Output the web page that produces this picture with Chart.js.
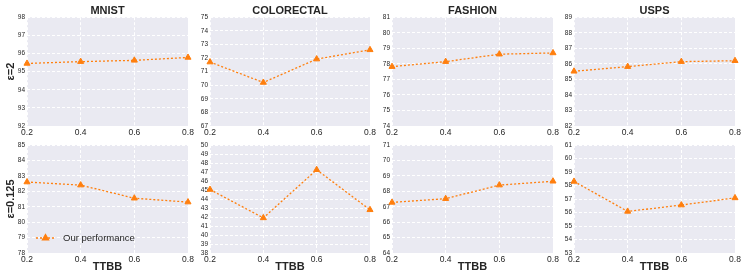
<!DOCTYPE html>
<html>
<head>
<meta charset="utf-8">
<script src="https://cdn.jsdelivr.net/npm/chart.js@4.4.1/dist/chart.umd.min.js"></script>
<style>
  html, body { margin: 0; padding: 0; background: #fff; }
  #wrap { position: relative; width: 747px; height: 280px; }
  #wrap canvas { position: absolute; left: 0; top: 0; }
</style>
</head>
<body>
<div id="wrap"></div>
<script>
// data
const ttbb = [0.2, 0.4, 0.6, 0.8];
const datasetNames = ['MNIST', 'COLORECTAL', 'FASHION', 'USPS'];
const rowLabels = ['ε=2', 'ε=0.125'];

const mnistEps2 = [95.45, 95.55, 95.62, 95.78];
const colorectalEps2 = [71.7, 70.2, 71.92, 72.6];
const fashionEps2 = [77.82, 78.14, 78.62, 78.7];
const uspsEps2 = [85.52, 85.82, 86.14, 86.2];

const mnistEps0125 = [82.6, 82.4, 81.55, 81.3];
const colorectalEps0125 = [45.05, 41.9, 47.25, 42.8];
const fashionEps0125 = [67.28, 67.52, 68.4, 68.65];
const uspsEps0125 = [58.3, 56.08, 56.55, 57.08];

const yRangeEps2 = [[92, 98], [67, 75], [74, 81], [82, 89]];
const yRangeEps0125 = [[78, 85], [38, 50], [64, 71], [53, 61]];

const seriesLabel = 'Our performance';
const orange = '#ff7f0e';
const textColor = '#262626';
const fontFamily = '"Liberation Sans", Arial, sans-serif';

// panel geometry (page pixels)
const W = 747, H = 280;
const plotLeft = [27, 210, 392, 574];
const plotRight = [188, 370, 553, 735];
const plotTop = [17, 145];
const plotBottom = [126, 253];

const plotBg = {
    id: 'plotBg',
    beforeDraw(chart) {
        const a = chart.chartArea;
        const ctx = chart.ctx;
        ctx.save();
        ctx.fillStyle = '#eaeaf2';
        ctx.fillRect(a.left, a.top, a.right - a.left, a.bottom - a.top);
        ctx.restore();
    }
};

// legend drawn inside the bottom-left panel
const innerLegend = {
    id: 'innerLegend',
    afterDraw(chart) {
        const a = chart.chartArea;
        const ctx = chart.ctx;
        const y = a.bottom - 15;
        const x0 = a.left + 9;
        ctx.save();
        ctx.strokeStyle = orange;
        ctx.lineWidth = 1.3;
        ctx.setLineDash([2, 2]);
        ctx.beginPath();
        ctx.moveTo(x0, y);
        ctx.lineTo(x0 + 19, y);
        ctx.stroke();
        ctx.setLineDash([]);
        ctx.fillStyle = orange;
        Chart.helpers.drawPoint(ctx, {pointStyle: 'triangle', radius: 3.5, borderWidth: 1}, x0 + 9.5, y);
        ctx.fillStyle = textColor;
        ctx.font = '9.5px ' + fontFamily;
        ctx.textBaseline = 'middle';
        ctx.fillText(seriesLabel, x0 + 27, y + 0.5);
        ctx.restore();
    }
};

const rows = [
    [mnistEps2, colorectalEps2, fashionEps2, uspsEps2],
    [mnistEps0125, colorectalEps0125, fashionEps0125, uspsEps0125]
];
const ranges = [yRangeEps2, yRangeEps0125];

const wrap = document.getElementById('wrap');

rows.forEach((row, r) => {
    row.forEach((values, c) => {
        const canvas = document.createElement('canvas');
        canvas.width = W;
        canvas.height = H;
        wrap.appendChild(canvas);

        const yW = c === 0 ? 27 : 20;
        const xH = r === 0 ? 14 : 27;
        const plugins = [plotBg];
        if (r === 1 && c === 0) plugins.push(innerLegend);

        new Chart(canvas.getContext('2d'), {
            type: 'line',
            data: {
                datasets: [{
                    label: seriesLabel,
                    data: ttbb.map((x, i) => ({x: x, y: values[i]})),
                    borderColor: orange,
                    backgroundColor: orange,
                    borderWidth: 1.3,
                    borderDash: [2, 2],
                    pointStyle: 'triangle',
                    pointRadius: 3.5,
                    pointBackgroundColor: orange,
                    pointBorderColor: orange,
                    pointBorderWidth: 1,
                    tension: 0,
                    clip: false
                }]
            },
            options: {
                responsive: false,
                animation: false,
                devicePixelRatio: 1,
                events: [],
                layout: {
                    padding: {
                        left: plotLeft[c] - yW,
                        right: W - plotRight[c],
                        top: r === 0 ? 0 : plotTop[1],
                        bottom: H - plotBottom[r] - xH
                    }
                },
                plugins: {
                    legend: {display: false},
                    tooltip: {enabled: false},
                    title: {
                        display: r === 0,
                        text: datasetNames[c],
                        fullSize: false,
                        color: textColor,
                        font: {family: fontFamily, size: 11, weight: 'bold'},
                        padding: {top: 4, bottom: 0}
                    }
                },
                scales: {
                    x: {
                        type: 'linear',
                        min: 0.2,
                        max: 0.8,
                        afterFit: s => { s.height = xH; },
                        grid: {color: '#ffffff', lineWidth: 1, drawTicks: false},
                        border: {display: false, dash: [3, 2]},
                        ticks: {
                            stepSize: 0.2,
                            padding: 2,
                            autoSkip: false,
                            color: textColor,
                            font: {family: fontFamily, size: 8.5},
                            maxRotation: 0,
                            callback: v => Number(v).toFixed(1)
                        },
                        title: {
                            display: r === 1,
                            text: 'TTBB',
                            color: textColor,
                            font: {family: fontFamily, size: 11, weight: 'bold'},
                            padding: {top: 0, bottom: 6}
                        }
                    },
                    y: {
                        min: ranges[r][c][0],
                        max: ranges[r][c][1],
                        afterFit: s => { s.width = yW; },
                        grid: {color: '#ffffff', lineWidth: 1, drawTicks: false},
                        border: {display: false, dash: [3, 2]},
                        ticks: {
                            stepSize: 1,
                            padding: 2,
                            autoSkip: false,
                            color: textColor,
                            font: {family: fontFamily, size: 6.5}
                        },
                        title: {
                            display: c === 0,
                            text: rowLabels[r],
                            color: textColor,
                            font: {family: fontFamily, size: 11, weight: 'bold'},
                            padding: {top: 4, bottom: 0}
                        }
                    }
                }
            },
            plugins: plugins
        });
    });
});
</script>
</body>
</html>
